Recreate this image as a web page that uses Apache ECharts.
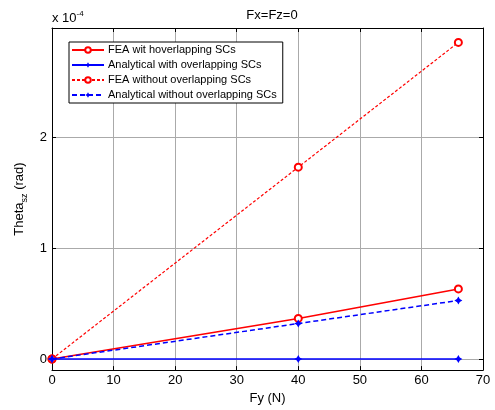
<!DOCTYPE html>
<html>
<head>
<meta charset="utf-8">
<script src="https://cdn.jsdelivr.net/npm/echarts@6/dist/echarts.min.js"></script>
<style>
  html, body { margin: 0; padding: 0; background: #fff; }
  #main { width: 495px; height: 410px; }
</style>
</head>
<body>
<div id="main"></div>
<script>
// Fy (N) load steps
var fy = [0, 40, 66];
// Theta_sz in units of 1e-4 rad
var feaWith = [0, 0.366, 0.632];
var anaWith = [0, 0, 0];
var feaWithout = [0, 1.73, 2.855];
var anaWithout = [0, 0.32, 0.528];
var yTicks = [0, 1, 2];
var names = [
    'FEA wit hoverlapping SCs',
    'Analytical with overlapping SCs',
    'FEA without overlapping SCs',
    'Analytical without overlapping SCs'
];

var myChart = echarts.init(document.getElementById('main'));

function pairs(ys) {
    var res = [];
    for (var i = 0; i < fy.length; i++) {
        res.push([fy[i], ys[i]]);
    }
    return res;
}

var star = 'path://M0,-5 L1.8,-1.8 L5,0 L1.8,1.8 L0,5 L-1.8,1.8 L-5,0 L-1.8,-1.8 Z';
var font = 'Liberation Sans, Arial, sans-serif';

var option = {
    backgroundColor: '#fff',
    animation: false,
    textStyle: { fontFamily: font },
    title: {
        text: 'Fx=Fz=0',
        left: 267,
        textAlign: 'center',
        top: 4,
        textStyle: { fontSize: 13, fontWeight: 'normal', color: '#000', fontFamily: font }
    },
    grid: { left: 52, right: 12, top: 28, bottom: 37 },
    legend: {
        orient: 'vertical',
        left: 69,
        top: 42,
        padding: [2.5, 6, 2.5, 2],
        borderColor: '#000',
        borderWidth: 1,
        borderRadius: 0,
        backgroundColor: '#fff',
        itemWidth: 32,
        itemHeight: 7,
        itemGap: 4,
        textStyle: { fontSize: 11, color: '#000', fontFamily: font, padding: [0, 0, 0, -1] },
        data: names
    },
    graphic: [{
        type: 'text',
        left: 52,
        top: 10,
        style: {
            text: '{a|x 10}{b|-4}',
            rich: {
                a: { fontSize: 13, fontFamily: font, fill: '#000', verticalAlign: 'bottom' },
                b: { fontSize: 8, fontFamily: font, fill: '#000', verticalAlign: 'top', padding: [0, 0, 7, 0] }
            }
        }
    }],
    xAxis: [{
        type: 'value',
        min: 0, max: 70, interval: 10,
        name: 'Fy (N)',
        nameLocation: 'middle',
        nameGap: 19,
        nameTextStyle: { fontSize: 13, color: '#000', fontFamily: font },
        axisLine: { onZero: false, lineStyle: { color: '#000', width: 1 } },
        axisTick: { inside: true, length: 4, lineStyle: { color: '#000' } },
        axisLabel: { fontSize: 13, color: '#000', margin: 4, fontFamily: font },
        splitLine: { show: true, lineStyle: { color: '#aaa', width: 1 } }
    }, {
        type: 'value',
        position: 'top',
        min: 0, max: 70, interval: 10,
        axisLine: { onZero: false, lineStyle: { color: '#000', width: 1 } },
        axisTick: { inside: true, length: 4, lineStyle: { color: '#000' } },
        axisLabel: { show: false },
        splitLine: { show: false }
    }],
    yAxis: [{
        type: 'value',
        min: -0.1, max: 2.985,
        name: '{a|Theta}{b|sz}{a| (rad)}',
        nameLocation: 'middle',
        nameGap: 20,
        nameTextStyle: {
            color: '#000',
            rich: {
                a: { fontSize: 13, fontFamily: font, color: '#000' },
                b: { fontSize: 9, fontFamily: font, color: '#000', padding: [9, 0, 0, 0] }
            }
        },
        axisLine: { onZero: false, lineStyle: { color: '#000', width: 1 } },
        axisTick: { inside: true, length: 4, customValues: yTicks, lineStyle: { color: '#000' } },
        axisLabel: { fontSize: 13, color: '#000', margin: 5, customValues: yTicks, fontFamily: font },
        splitLine: { show: true, lineStyle: { color: '#aaa', width: 1 } }
    }, {
        type: 'value',
        position: 'right',
        min: -0.1, max: 2.985,
        axisLine: { onZero: false, lineStyle: { color: '#000', width: 1 } },
        axisTick: { inside: true, length: 4, customValues: yTicks, lineStyle: { color: '#000' } },
        axisLabel: { show: false },
        splitLine: { show: false }
    }],
    series: [{
        name: names[2],
        type: 'line',
        data: pairs(feaWithout),
        symbol: 'emptyCircle',
        symbolSize: 7,
        lineStyle: { color: '#ff0000', width: 1.2, type: [3, 2] },
        itemStyle: { color: '#ff0000', borderWidth: 1.2 },
        z: 2
    }, {
        name: names[0],
        type: 'line',
        data: pairs(feaWith),
        symbol: 'emptyCircle',
        symbolSize: 7,
        lineStyle: { color: '#ff0000', width: 1.5 },
        itemStyle: { color: '#ff0000', borderWidth: 1.2 },
        z: 3
    }, {
        name: names[3],
        type: 'line',
        data: pairs(anaWithout),
        symbol: star,
        symbolSize: 8,
        lineStyle: { color: '#0000ff', width: 1.5, type: [5, 3] },
        itemStyle: { color: '#0000ff' },
        z: 4
    }, {
        name: names[1],
        type: 'line',
        data: pairs(anaWith),
        symbol: star,
        symbolSize: 8,
        lineStyle: { color: '#0000ff', width: 1.5 },
        itemStyle: { color: '#0000ff' },
        z: 5
    }]
};

myChart.setOption(option);
</script>
</body>
</html>
